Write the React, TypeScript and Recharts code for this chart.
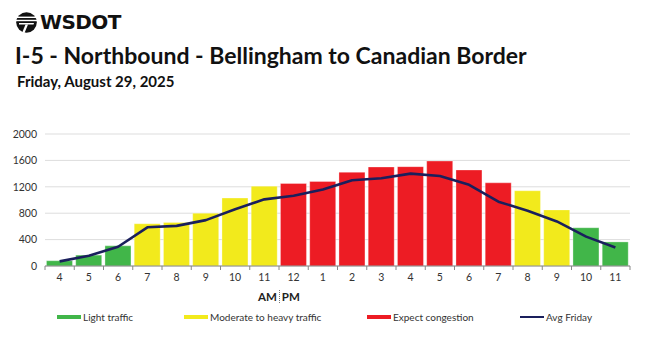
import React from "react";
import { ComposedChart, Bar, Line, XAxis, YAxis, CartesianGrid, Cell } from "recharts";

const hours = ["4", "5", "6", "7", "8", "9", "10", "11", "12", "1", "2", "3", "4", "5", "6", "7", "8", "9", "10", "11"];
const volumes = [80, 165, 305, 640, 660, 800, 1030, 1210, 1250, 1280, 1420, 1500, 1505, 1590, 1455, 1260, 1140, 850, 580, 365];
const avgFriday = [70, 155, 292, 586, 608, 695, 860, 1010, 1065, 1160, 1300, 1330, 1400, 1364, 1230, 975, 838, 675, 445, 280];
const levels = ["light", "light", "light", "moderate", "moderate", "moderate", "moderate", "moderate", "heavy", "heavy", "heavy", "heavy", "heavy", "heavy", "heavy", "heavy", "moderate", "moderate", "light", "light"];
const yTicks = [0, 400, 800, 1200, 1600, 2000];

const COLORS: Record<string, string> = { light: "#41b649", moderate: "#f2ea1c", heavy: "#ed1c24" };
const LINE_COLOR = "#1a1f5c";
const FONT = "Lato, 'Open Sans', sans-serif";

const data = hours.map((h, i) => ({ h: h + "-" + i, volume: volumes[i], avg: avgFriday[i], level: levels[i] }));

const BAND = 585 / hours.length;

function HourTick({ x, y, payload, index }: any) {
  const label = String(payload.value).split("-")[0];
  return (
    <g>
      <line x1={x - BAND / 2} x2={x - BAND / 2} y1={y - 8} y2={y - 4} stroke="#888" />
      {index === hours.length - 1 && <line x1={x + BAND / 2} x2={x + BAND / 2} y1={y - 8} y2={y - 4} stroke="#888" />}
      <text x={x} y={y + 7} textAnchor="middle" fontSize={10.5} fill="#333" fontFamily={FONT}>
        {label}
      </text>
    </g>
  );
}

function Logo() {
  return (
    <div style={{ position: "absolute", left: 15, top: 11, display: "flex", alignItems: "center" }}>
      <svg width={23} height={21} viewBox="0 0 23 21">
        <circle cx={11.5} cy={10.5} r={10.3} fill="#111" />
        <rect x={0} y={4.6} width={23} height={1.4} fill="#fff" />
        <rect x={0} y={7.8} width={23} height={1.4} fill="#fff" />
        <polygon points="4,11 19,11 18.5,12.6 4,12.6" fill="#fff" />
        <polygon points="10.5,12.6 13,12.6 9.5,21 7,21" fill="#fff" />
      </svg>
      <span style={{ fontFamily: "'DejaVu Sans', sans-serif", fontWeight: 700, fontSize: 20, marginLeft: 2, letterSpacing: -0.6, color: "#111", lineHeight: "22px" }}>
        WSDOT
      </span>
    </div>
  );
}

function LegendRow() {
  const items = [
    { x: 57, color: COLORS.light, text: "Light traffic", h: 4 },
    { x: 184, color: COLORS.moderate, text: "Moderate to heavy traffic", h: 4 },
    { x: 367, color: COLORS.heavy, text: "Expect congestion", h: 4 },
    { x: 520, color: LINE_COLOR, text: "Avg Friday", h: 2 },
  ];
  return (
    <>
      {items.map((it) => (
        <div key={it.text} style={{ position: "absolute", left: it.x, top: 309, display: "flex", alignItems: "center", height: 16 }}>
          <div style={{ width: 24, height: it.h, background: it.color }} />
          <span style={{ fontFamily: FONT, fontSize: 10, color: "#333", marginLeft: 2, whiteSpace: "nowrap" }}>{it.text}</span>
        </div>
      ))}
    </>
  );
}

export default function App() {
  return (
    <div style={{ position: "relative", width: 650, height: 337, margin: -8, background: "#fff", overflow: "hidden" }}>
      <Logo />
      <div style={{ position: "absolute", left: 15, top: 41, fontFamily: FONT, fontWeight: 700, fontSize: 23, color: "#111", whiteSpace: "nowrap" }}>
        I-5 - Northbound - Bellingham to Canadian Border
      </div>
      <div style={{ position: "absolute", left: 17, top: 72, fontFamily: FONT, fontWeight: 700, fontSize: 15, color: "#111", whiteSpace: "nowrap" }}>
        Friday, August 29, 2025
      </div>
      <div style={{ position: "absolute", top: 0, left: 0 }}>
        <ComposedChart width={650} height={337} data={data} margin={{ top: 134, right: 20, bottom: 41, left: 0 }} barCategoryGap="5%">
          <CartesianGrid vertical={false} stroke="#ddd" />
          <XAxis dataKey="h" interval={0} tick={<HourTick />} tickLine={false} axisLine={{ stroke: "#888" }} height={30} />
          <YAxis domain={[0, 2000]} ticks={yTicks} width={45} axisLine={false} tickLine={false} tick={{ fontSize: 10.5, fill: "#333", fontFamily: FONT }} />
          <Bar dataKey="volume" isAnimationActive={false} stroke="#fff" strokeOpacity={0.3}>
            {data.map((d, i) => (
              <Cell key={i} fill={COLORS[d.level]} />
            ))}
          </Bar>
          <Line dataKey="avg" type="linear" stroke={LINE_COLOR} strokeWidth={2.6} strokeLinejoin="round" dot={false} isAnimationActive={false} />
        </ComposedChart>
      </div>
      <div style={{ position: "absolute", left: 258, top: 290, fontFamily: FONT, fontSize: 11.5, fontWeight: 700, color: "#222", display: "flex", alignItems: "center" }}>
        <span>AM</span>
        <span style={{ borderLeft: "1px dotted #777", height: 13, margin: "0 2px" }} />
        <span>PM</span>
      </div>
      <LegendRow />
    </div>
  );
}
